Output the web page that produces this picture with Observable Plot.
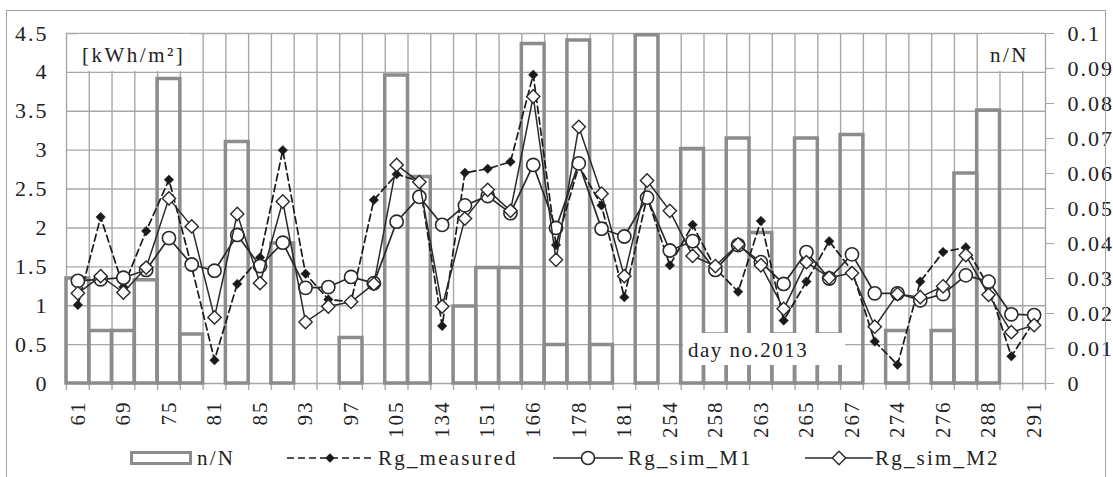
<!DOCTYPE html>
<html>
<head>
<meta charset="utf-8">
<script src="https://cdn.jsdelivr.net/npm/d3@7"></script>
<script src="https://cdn.jsdelivr.net/npm/@observablehq/plot@0.6"></script>
<style>
  body { margin: 0; background: #fff; }
  #wrap { position: relative; width: 1113px; height: 477px; overflow: hidden;
          font-family: "Liberation Serif", Tinos, "DejaVu Serif", serif; color: #222; }
  #chart { position: absolute; left: 0; top: 0; }
  #frame { position: absolute; left: 6px; top: 10px; width: 1100px; height: 490px;
           border: 1.5px solid #a3a3a3; box-sizing: border-box; pointer-events: none; }
  .box { position: absolute; background: #fff; }
  .box span { position: absolute; font-size: 21px; line-height: 24px; letter-spacing: 2.5px; white-space: nowrap; }
  .lt { position: absolute; top: 446px; font-size: 21px; line-height: 24px; letter-spacing: 2.2px; white-space: nowrap; }
  .ls { position: absolute; top: 449px; }
  svg text { font-family: "Liberation Serif", Tinos, "DejaVu Serif", serif; }
</style>
</head>
<body>
<div id="wrap">
  <div id="chart"></div>
  <div class="box" style="left:78px;top:34px;width:112px;height:37px;"><span style="left:4px;top:9px;">[kWh/m²]</span></div>
  <div class="box" style="left:982px;top:34px;width:62px;height:37px;"><span style="left:8px;top:9px;">n/N</span></div>
  <div class="box" style="left:683px;top:333px;width:162px;height:32px;"><span style="left:5px;top:5px;letter-spacing:1.5px;">day no.2013</span></div>

  <div class="ls" style="left:130px;top:451px;width:62px;height:14px;border:3.5px solid #8c8c8c;box-sizing:border-box;"></div>
  <div class="lt" style="left:197px;">n/N</div>
  <svg class="ls" style="left:287px;" width="86" height="18"><line x1="0" y1="9" x2="86" y2="9" stroke="#1a1a1a" stroke-width="1.7" stroke-dasharray="7,4"/><path d="M43,4.3L47.7,9L43,13.7L38.3,9Z" fill="#1a1a1a"/></svg>
  <div class="lt" style="left:378px;">Rg_measured</div>
  <svg class="ls" style="left:553px;" width="70" height="18"><line x1="0" y1="9" x2="70" y2="9" stroke="#2a2a2a" stroke-width="1.7"/><circle cx="35" cy="9" r="6.5" fill="#fff" stroke="#2a2a2a" stroke-width="1.6"/></svg>
  <div class="lt" style="left:628px;">Rg_sim_M1</div>
  <svg class="ls" style="left:805px;" width="68" height="18"><line x1="0" y1="9" x2="68" y2="9" stroke="#2a2a2a" stroke-width="1.7"/><path d="M34,2.3L40.7,9L34,15.7L27.3,9Z" fill="#fff" stroke="#2a2a2a" stroke-width="1.4"/></svg>
  <div class="lt" style="left:875px;">Rg_sim_M2</div>

  <div id="frame"></div>
</div>
<script>
// ---- data ----
const xLabels = ["61","69","75","81","85","93","97","105","134","151","166","178","181","254","258","263","265","267","274","276","288","291"];
// n/N per day slot (right axis)
const nN = [0.030,0.015,0.015,0.0295,0.087,0.014,0,0.069,0,0.040,0,0,0.013,0,0.088,0.059,0,0.022,0.033,0.033,0.097,0.011,0.098,0.011,0,0.0995,0,0.067,0.014,0.070,0.043,0.014,0.070,0.014,0.071,0,0.015,0,0.015,0.060,0.078,0,0];
// kWh/m2 (left axis)
const rgMeasured = [1.01,2.14,1.24,1.96,2.62,1.50,0.30,1.28,1.62,3.00,1.41,1.08,1.05,2.36,2.69,2.60,0.74,2.71,2.76,2.85,3.97,1.78,2.80,2.29,1.11,2.40,1.52,2.04,1.48,1.18,2.09,0.81,1.31,1.83,1.45,0.54,0.24,1.31,1.69,1.75,1.25,0.35,0.80];
const rgSimM1 = [1.32,1.34,1.36,1.46,1.87,1.53,1.45,1.91,1.51,1.81,1.23,1.24,1.37,1.29,2.08,2.40,2.04,2.29,2.41,2.19,2.81,2.00,2.83,1.99,1.89,2.39,1.71,1.83,1.46,1.78,1.56,1.28,1.69,1.35,1.66,1.16,1.16,1.07,1.15,1.39,1.31,0.89,0.88];
const rgSimM2 = [1.16,1.38,1.17,1.49,2.38,2.02,0.85,2.18,1.29,2.34,0.79,0.99,1.05,1.28,2.81,2.59,0.99,2.12,2.49,2.22,3.69,1.59,3.30,2.44,1.38,2.61,2.22,1.64,1.51,1.79,1.52,0.96,1.56,1.36,1.42,0.73,1.15,1.11,1.25,1.65,1.14,0.66,0.75];
const leftTicks = [0,0.5,1,1.5,2,2.5,3,3.5,4,4.5];
const rightTicks = [0,0.01,0.02,0.03,0.04,0.05,0.06,0.07,0.08,0.09,0.1];

// ---- build ----
const K = 4.5 / 0.1; // left-axis units per right-axis unit
const n = nN.length;
const rows = d3.range(n).map(i => ({i, c: i + 0.5, nN: nN[i], meas: rgMeasured[i], m1: rgSimM1[i], m2: rgSimM2[i]}));
const grid = "#a8a8a8";

const chart = Plot.plot({
  width: 1113, height: 440,
  marginLeft: 66, marginRight: 68, marginTop: 33, marginBottom: 57,
  style: "font-family:'Liberation Serif',Tinos,'DejaVu Serif',serif;font-size:21px;letter-spacing:2px;background:transparent;color:#222;overflow:visible;",
  x: {domain: [0, n], axis: null, label: null},
  y: {domain: [0, 4.5], axis: null, label: null},
  marks: [
    Plot.ruleY(leftTicks, {stroke: grid, strokeWidth: 1.4}),
    Plot.ruleX(d3.range(n + 1), {stroke: grid, strokeWidth: 1.4}),
    Plot.axisX(d3.range(n + 1), {tickSize: 7, tickFormat: () => "", stroke: grid, strokeWidth: 1.4, label: null}),
    Plot.rect(rows.filter(d => d.nN > 0), {x1: "i", x2: d => d.i + 1, y1: d => 0, y2: d => d.nN * K,
      fill: "none", stroke: "#8c8c8c", strokeWidth: 3.5}),
    Plot.line(rows, {x: "c", y: "meas", stroke: "#1a1a1a", strokeWidth: 1.7, strokeDasharray: "7,4"}),
    Plot.dot(rows, {x: "c", y: "meas", symbol: "diamond2", r: 4.3, fill: "#1a1a1a", stroke: "#1a1a1a", strokeWidth: 0.5}),
    Plot.line(rows, {x: "c", y: "m1", stroke: "#2a2a2a", strokeWidth: 1.7}),
    Plot.dot(rows, {x: "c", y: "m1", r: 6.6, fill: "white", stroke: "#2a2a2a", strokeWidth: 1.6}),
    Plot.line(rows, {x: "c", y: "m2", stroke: "#2a2a2a", strokeWidth: 1.5}),
    Plot.dot(rows, {x: "c", y: "m2", symbol: "diamond2", r: 6, fill: "white", stroke: "#2a2a2a", strokeWidth: 1.4}),
    Plot.axisY(leftTicks, {anchor: "left", tickSize: 0, tickPadding: 18, fontSize: 22, tickFormat: d => String(d), label: null}),
    Plot.axisY(rightTicks.map(v => v * K), {anchor: "right", tickSize: 8, tickPadding: 14, stroke: grid, fontSize: 22,
      tickFormat: d => String(Math.round(d / K * 100) / 100), label: null}),
    Plot.axisX(d3.range(0, n, 2).map(i => i + 0.5), {tickSize: 0, tickPadding: 17, tickRotate: -90, fontSize: 21,
      tickFormat: d => xLabels[(d - 0.5) / 2], label: null})
  ]
});
document.getElementById("chart").appendChild(chart);
</script>
</body>
</html>
